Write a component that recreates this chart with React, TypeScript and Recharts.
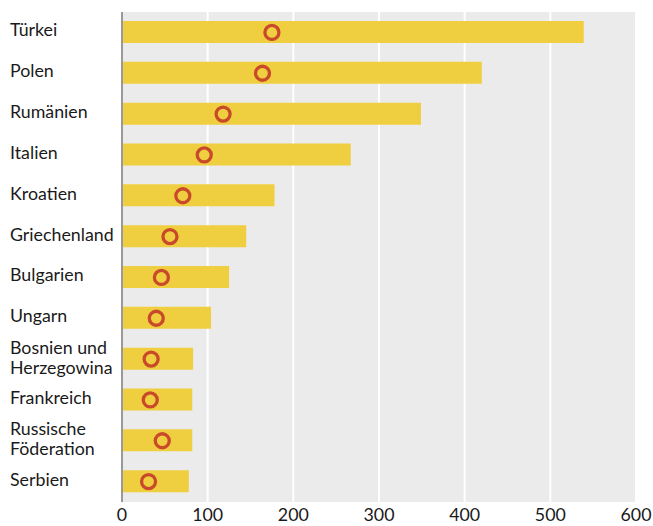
import React from "react";
import { ComposedChart, Bar, Line, XAxis, YAxis, CartesianGrid } from "recharts";

const categories = [
  "Türkei",
  "Polen",
  "Rumänien",
  "Italien",
  "Kroatien",
  "Griechenland",
  "Bulgarien",
  "Ungarn",
  "Bosnien und Herzegowina",
  "Frankreich",
  "Russische Föderation",
  "Serbien",
];

const categoryLines: string[][] = [
  ["Türkei"],
  ["Polen"],
  ["Rumänien"],
  ["Italien"],
  ["Kroatien"],
  ["Griechenland"],
  ["Bulgarien"],
  ["Ungarn"],
  ["Bosnien und", "Herzegowina"],
  ["Frankreich"],
  ["Russische", "Föderation"],
  ["Serbien"],
];

const barValues = [539, 420, 349, 267, 178, 145, 125, 104, 83, 82, 82, 78];
const dotValues = [175, 164, 118, 96, 71, 56, 46, 40, 34, 33, 47, 31];

const xTicks = [0, 100, 200, 300, 400, 500, 600];

const data = categories.map((c, i) => ({
  name: c,
  bar: barValues[i],
  dot: dotValues[i],
}));

const FONT = "Lato, 'Noto Sans', sans-serif";
const FS = 17.8;

const YTick = (props: any) => {
  const { y, payload } = props;
  const idx = categories.indexOf(payload.value);
  const lines = idx >= 0 ? categoryLines[idx] : [String(payload.value)];
  if (lines.length === 1) {
    return (
      <text x={10} y={y + 4} fontSize={FS} fontFamily={FONT} fill="#1a1a1a" textAnchor="start">
        {lines[0]}
      </text>
    );
  }
  return (
    <text fontSize={FS} fontFamily={FONT} fill="#1a1a1a" textAnchor="start">
      <tspan x={10} y={y - 5.5}>{lines[0]}</tspan>
      <tspan x={10} y={y + 14.5}>{lines[1]}</tspan>
    </text>
  );
};

export default function App() {
  return (
    <div style={{ width: 653, height: 526 }}>
      <style>{`body{margin:0}`}</style>
      <ComposedChart
        width={653}
        height={526}
        layout="vertical"
        data={data}
        margin={{ top: 12, right: 17, bottom: 0, left: 0 }}
      >
        <CartesianGrid
          horizontal={false}
          stroke="#ffffff"
          strokeWidth={2}
          fill="#EBEBEB"
        />
        <XAxis
          type="number"
          domain={[0, 600]}
          ticks={xTicks}
          height={24}
          axisLine={false}
          tickLine={false}
          tickSize={0}
          tickMargin={6}
          tick={{ fontSize: FS, fontFamily: FONT, fill: "#1a1a1a" }}
          interval={0}
        />
        <YAxis
          type="category"
          dataKey="name"
          width={122}
          axisLine={{ stroke: "#999999", strokeWidth: 2 }}
          tickLine={false}
          tick={<YTick />}
          interval={0}
        />
        <Bar dataKey="bar" fill="#EFCF3F" barSize={22} isAnimationActive={false} />
        <Line
          dataKey="dot"
          stroke="none"
          isAnimationActive={false}
          dot={{ r: 7, fill: "#EFCF3F", stroke: "#C94A2A", strokeWidth: 3.3 }}
          activeDot={false}
        />
      </ComposedChart>
    </div>
  );
}
